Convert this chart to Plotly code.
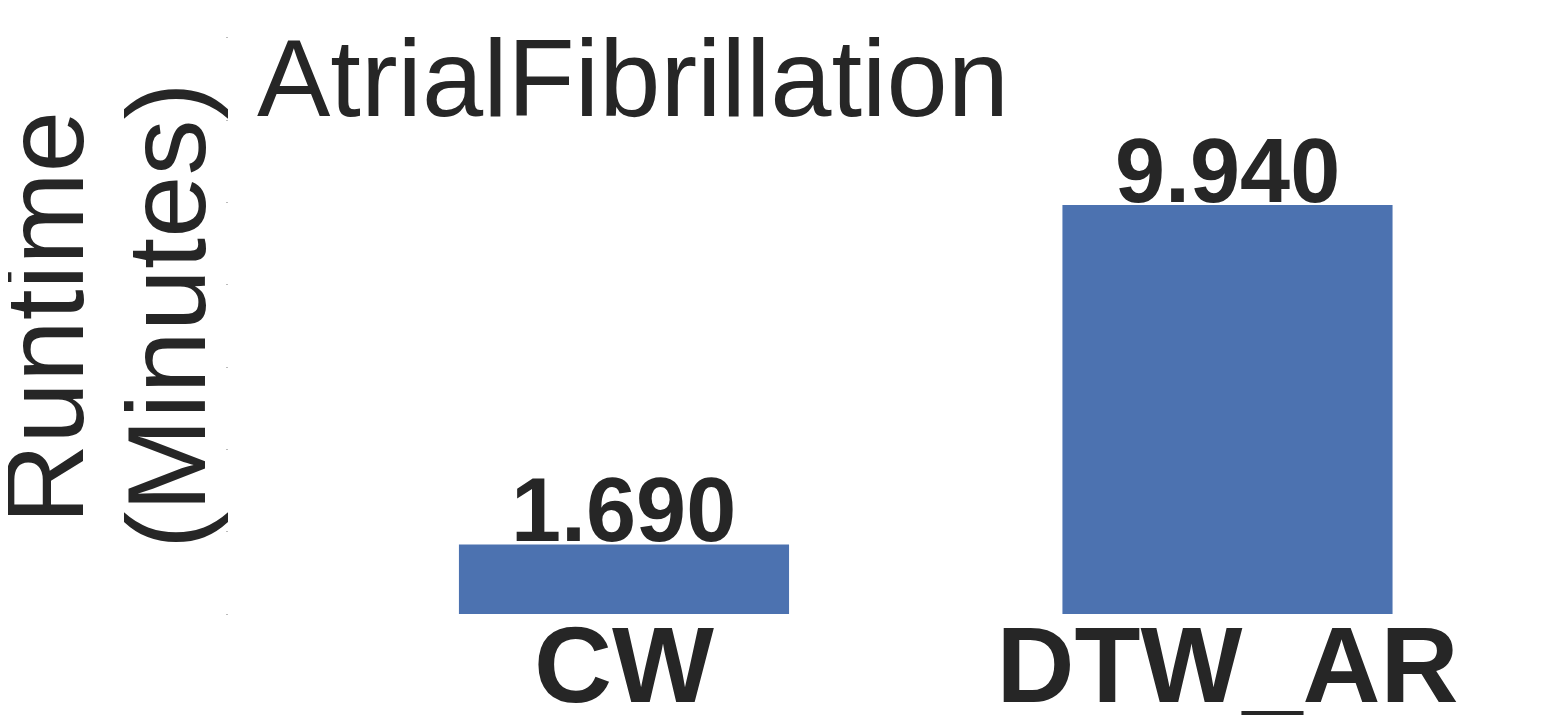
import plotly.graph_objects as go

methods = ['CW', 'DTW_AR']
runtimes = [1.690, 9.940]
bar_labels = ['1.690', '9.940']
y_ticks = [0, 2, 4, 6, 8, 10, 12, 14]

W, H = 1557, 727
off = 8  # page body margin offset
left, top, right, bottom = 221, 0, 8, 121
plot_w = W - left - right
plot_h = H - top - bottom

def px_x(sx):
    # paper x from screen pixel x
    return (sx - off - left) / plot_w

def px_y(sy):
    return (H - bottom - (sy - off)) / plot_h

dark = '#262626'
blue = '#4C72B0'

fig = go.Figure()
fig.add_trace(go.Bar(
    x=methods, y=runtimes,
    marker=dict(color=blue, line=dict(width=0)),
    width=0.547,
))

# value labels on top of bars
for m, v, lab in zip(methods, runtimes, bar_labels):
    fig.add_annotation(text=lab, x=m, y=v, xref='x', yref='y',
                       xanchor='center', yanchor='bottom', yshift=-18,
                       showarrow=False,
                       font=dict(family='Liberation Sans', size=90, color=dark, weight='bold'))

fig.add_annotation(text='AtrialFibrillation', xref='paper', yref='paper',
                   x=px_x(255), y=px_y(77), xanchor='left', yanchor='middle',
                   showarrow=False, font=dict(family='Liberation Sans', size=110, color=dark))
fig.add_annotation(text='Runtime', xref='paper', yref='paper', textangle=-90,
                   x=px_x(45), y=px_y(318), xanchor='center', yanchor='middle',
                   showarrow=False, font=dict(family='Liberation Sans', size=111, color=dark))
fig.add_annotation(text='(Minutes)', xref='paper', yref='paper', textangle=-90,
                   x=px_x(167), y=px_y(316), xanchor='center', yanchor='middle',
                   showarrow=False, font=dict(family='Liberation Sans', size=112, color=dark))

fig.update_layout(
    width=W, height=H,
    margin=dict(l=left, r=right, t=top, b=bottom, autoexpand=False),
    paper_bgcolor='white', plot_bgcolor='white',
    showlegend=False,
    xaxis=dict(range=[-0.6545, 1.546], showgrid=False, zeroline=False, showline=False,
               automargin=False, ticks='', ticklabelstandoff=-21,
               tickfont=dict(family='Liberation Sans', size=108, color=dark, weight='bold')),
    yaxis=dict(range=[0, plot_h / 41.15], tickvals=y_ticks, showticklabels=False, showgrid=False,
               automargin=False, zeroline=False, showline=False, ticks='outside', ticklen=2,
               tickwidth=1, tickcolor='#bbbbbb'),
)

fig.write_html('out.html')
